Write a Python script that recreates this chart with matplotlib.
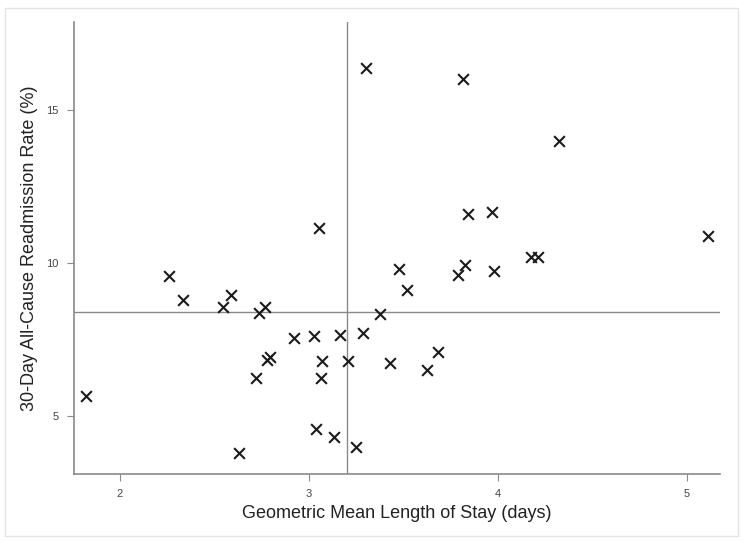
import matplotlib
matplotlib.use("Agg")
import matplotlib.pyplot as plt
from matplotlib.patches import Rectangle

plt.rcParams["font.family"] = ["Liberation Sans", "DejaVu Sans"]

# ── Data ─────────────────────────────────────────────────────────────────────
los = [1.818, 2.258, 2.335, 2.547, 2.587, 2.737, 2.767, 2.720, 2.779, 2.797,
       2.631, 2.921, 3.026, 3.164, 3.287, 3.070, 3.067, 3.208, 3.040, 3.132,
       3.252, 3.379, 3.432, 3.478, 3.522, 3.790, 3.827, 3.980, 3.628, 3.683,
       3.302, 3.815, 4.326, 3.845, 3.970, 5.115, 4.178, 4.213, 3.055]
readmit = [5.65, 9.56, 8.79, 8.57, 8.94, 8.36, 8.57, 6.25, 6.83, 6.94,
           3.78, 7.55, 7.61, 7.65, 7.70, 6.80, 6.23, 6.80, 4.58, 4.30,
           3.98, 8.32, 6.72, 9.79, 9.12, 9.61, 9.94, 9.73, 6.50, 7.10,
           16.38, 16.00, 14.00, 11.59, 11.68, 10.88, 10.19, 10.21, 11.13]

mean_los = 3.2
mean_readmit = 8.39

x_ticks = [2, 3, 4, 5]
y_ticks = [5, 10, 15]

# ── Plot ─────────────────────────────────────────────────────────────────────
fig = plt.figure(figsize=(7.43, 5.43), dpi=100)
ax = fig.add_axes([0.0996, 0.127, 0.869, 0.8325])

grey = "#8a8a8a"
ax.axvline(mean_los, color=grey, linewidth=1.0, zorder=1)
ax.axhline(mean_readmit, color=grey, linewidth=1.0, zorder=1)

ax.scatter(los, readmit, marker="x", s=60, color="#1a1a1a", linewidths=1.5,
           zorder=3)

ax.set_xlim(1.757, 5.175)
ax.set_ylim(3.1, 17.88)
ax.set_xticks(x_ticks)
ax.set_yticks(y_ticks)

for side in ("top", "right"):
    ax.spines[side].set_visible(False)
for side in ("left", "bottom"):
    ax.spines[side].set_color(grey)
    ax.spines[side].set_linewidth(1.2)

ax.tick_params(axis="both", direction="out", length=5, width=0.8,
               color=grey, labelsize=8, labelcolor="#444444", pad=6)

ax.set_xlabel("Geometric Mean Length of Stay (days)", fontsize=13,
              color="#222222", labelpad=4)
ax.set_ylabel("30-Day All-Cause Readmission Rate (%)", fontsize=13,
              color="#222222", labelpad=6)

# faint frame around the whole figure
fig.patches.append(Rectangle((0.007, 0.013), 0.986, 0.973,
                             transform=fig.transFigure, fill=False,
                             edgecolor="#e4e4e4", linewidth=1.0))

fig.savefig("out.png", dpi=100)
